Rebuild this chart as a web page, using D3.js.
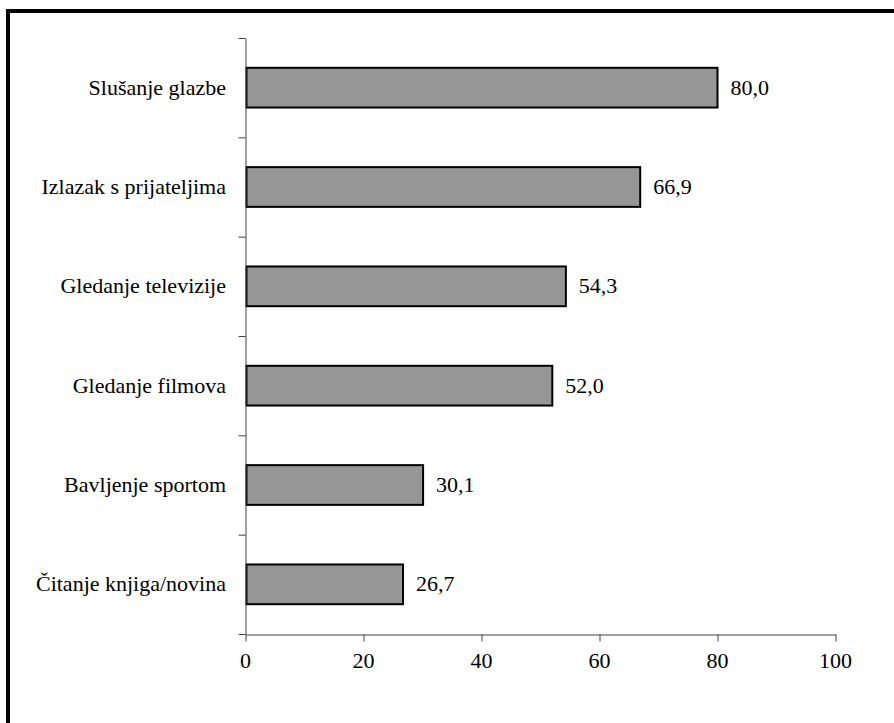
<!DOCTYPE html>
<html>
<head>
<meta charset="utf-8">
<script src="https://cdn.jsdelivr.net/npm/d3@7"></script>
<style>
  html, body { margin: 0; padding: 0; background: #fff; }
  #wrap { position: relative; width: 894px; height: 723px; overflow: hidden; }
  svg { display: block; position: absolute; left: 0; top: 0; }
  .lbl { position: absolute; font-family: "Liberation Serif", "Times New Roman", serif; font-size: 22px; line-height: 24px; color: #000; white-space: nowrap; }
</style>
</head>
<body>
<div id="wrap"><svg id="chart" width="894" height="723"></svg></div>
<script>
const categories = ["Slušanje glazbe", "Izlazak s prijateljima", "Gledanje televizije", "Gledanje filmova", "Bavljenje sportom", "Čitanje knjiga/novina"];
const values = [80.0, 66.9, 54.3, 52.0, 30.1, 26.7];
const xTicks = [0, 20, 40, 60, 80, 100];

const svg = d3.select("#chart");
const wrap = d3.select("#wrap");

// frame (only top and left edges visible)
svg.append("line").attr("x1", 6).attr("x2", 894).attr("y1", 11).attr("y2", 11)
  .attr("stroke", "#000").attr("stroke-width", 4);
svg.append("line").attr("x1", 8).attr("x2", 8).attr("y1", 9).attr("y2", 723)
  .attr("stroke", "#000").attr("stroke-width", 4);

const x = d3.scaleLinear().domain([0, 100]).range([245.5, 835.5]);
const y = d3.scaleBand().domain(categories).range([38, 634]).paddingInner(0.6).paddingOuter(0.3);
const yb = d3.scaleLinear().domain([0, categories.length]).range([38, 634]);

const axisColor = "#404040";

// bars
svg.append("g").selectAll("rect").data(values).join("rect")
  .attr("x", x(0) + 1)
  .attr("y", (d, i) => y(categories[i]))
  .attr("width", d => x(d) - x(0) - 1)
  .attr("height", y.bandwidth())
  .attr("fill", "#969696")
  .attr("stroke", "#000")
  .attr("stroke-width", 2);

// x axis (lines only; labels as HTML text below)
const xAxis = svg.append("g").attr("transform", "translate(0,634.5)")
  .call(d3.axisBottom(x).tickValues(xTicks).tickSize(7).tickSizeOuter(0).tickFormat(""));
xAxis.select(".domain").attr("stroke", axisColor);
xAxis.selectAll(".tick line").attr("stroke", axisColor);

// y axis (ticks at category boundaries)
const yAxis = svg.append("g").attr("transform", "translate(245.5,0)")
  .call(d3.axisLeft(yb).tickValues(d3.range(0, categories.length + 1)).tickSize(7).tickSizeOuter(0).tickFormat(""));
yAxis.select(".domain").attr("stroke", axisColor);
yAxis.selectAll(".tick line").attr("stroke", axisColor);

// x tick labels
wrap.selectAll("div.xt").data(xTicks).join("div")
  .attr("class", "lbl xt")
  .style("left", d => x(d) + "px")
  .style("top", "649px")
  .style("transform", "translateX(-50%)")
  .text(d => d);

// category labels (right-aligned)
wrap.selectAll("div.cat").data(categories).join("div")
  .attr("class", "lbl cat")
  .style("right", (894 - 226) + "px")
  .style("top", d => (y(d) + y.bandwidth() / 2 - 12) + "px")
  .text(d => d);

// value labels
wrap.selectAll("div.val").data(values).join("div")
  .attr("class", "lbl val")
  .style("left", d => (x(d) + 13) + "px")
  .style("top", (d, i) => (y(categories[i]) + y.bandwidth() / 2 - 12) + "px")
  .text(d => d3.format(".1f")(d).replace(".", ","));
</script>
</body>
</html>
